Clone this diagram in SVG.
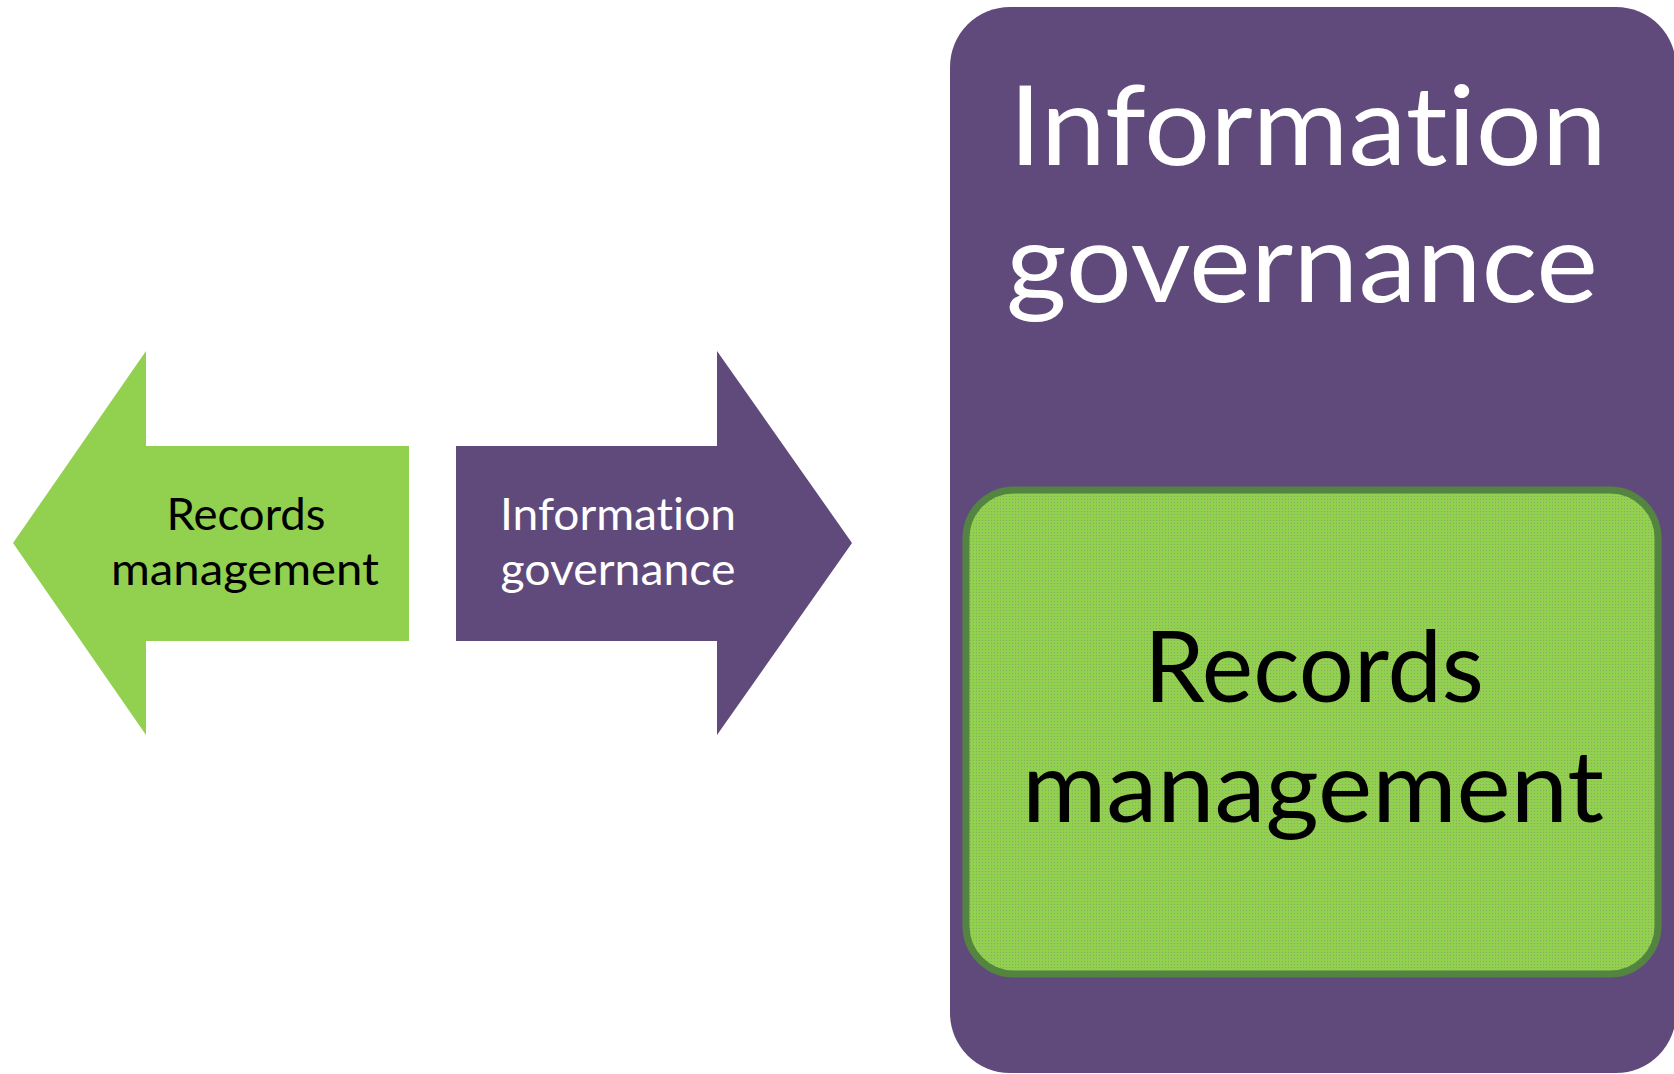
<svg xmlns="http://www.w3.org/2000/svg" width="1674" height="1074" viewBox="0 0 1674 1074">
  <style>
    .purple { fill: #604A7B; }
    .green { fill: #92D050; }
    .t { font-family: Lato, "Open Sans", "Liberation Sans", sans-serif; text-anchor: middle; font-variant-ligatures: none; font-feature-settings: "liga" 0, "clig" 0; }
    .w { fill: #FFFFFF; }
    .k { fill: #000000; }
  </style>
  <defs>
    <pattern id="tex" width="3" height="3" patternUnits="userSpaceOnUse">
      <rect width="3" height="3" fill="#92D050"/>
      <rect x="1" y="1" width="1" height="1" fill="#8A8A78" opacity="0.55"/>
    </pattern>
  </defs>

  <g id="left-arrow">
    <polygon class="green" points="13,543 146,351 146,446 409,446 409,641 146,641 146,735"/>
    <text class="t k" x="246" y="530" font-size="44" textLength="159" lengthAdjust="spacingAndGlyphs">Records</text>
    <text class="t k" x="245" y="585" font-size="44" textLength="268" lengthAdjust="spacingAndGlyphs">management</text>
  </g>

  <g id="right-arrow">
    <polygon class="purple" points="456,446 717,446 717,351 852,543 717,735 717,641 456,641"/>
    <text class="t w" x="618" y="530" font-size="44" textLength="236" lengthAdjust="spacingAndGlyphs">Information</text>
    <text class="t w" x="618" y="585" font-size="44" textLength="235" lengthAdjust="spacingAndGlyphs">governance</text>
  </g>

  <g id="information-governance">
    <rect class="purple" x="950" y="7" width="726" height="1066" rx="60" ry="60"/>
    <text class="t w" x="1308" y="165" font-size="110" textLength="598" lengthAdjust="spacingAndGlyphs">Information</text>
    <text class="t w" x="1302" y="302" font-size="110" textLength="592" lengthAdjust="spacingAndGlyphs">governance</text>
  </g>

  <g id="records-management">
    <rect x="966" y="490" width="692" height="484" rx="48" ry="48" fill="url(#tex)" stroke="#538540" stroke-width="7"/>
    <text class="t k" x="1314" y="702" font-size="98" textLength="340" lengthAdjust="spacingAndGlyphs">Records</text>
    <text class="t k" x="1313" y="822" font-size="98" textLength="582" lengthAdjust="spacingAndGlyphs">management</text>
  </g>

  <g id="connectors"></g>
</svg>
